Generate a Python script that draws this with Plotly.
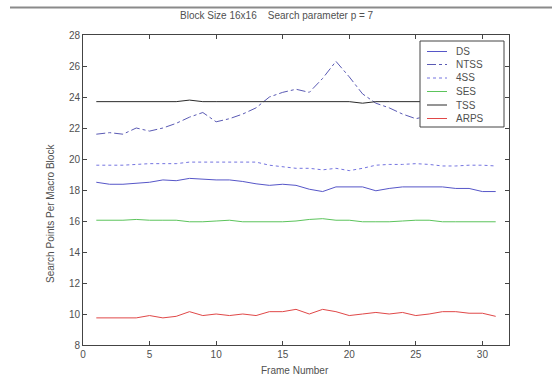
import plotly.graph_objects as go

frames = list(range(1, 32))
ds = [18.5, 18.37, 18.37, 18.45, 18.5, 18.65, 18.6, 18.75, 18.7, 18.65, 18.65, 18.55, 18.4, 18.3, 18.37, 18.3,
      18.05, 17.9, 18.2, 18.2, 18.2, 17.95, 18.1, 18.2, 18.2, 18.2, 18.2, 18.1, 18.1, 17.9, 17.9]
ntss = [21.6, 21.7, 21.6, 22.0, 21.8, 22.0, 22.3, 22.7, 23.0, 22.4, 22.6, 22.9, 23.3, 24.0, 24.3, 24.5,
        24.3, 25.2, 26.3, 25.3, 24.2, 23.6, 23.3, 22.9, 22.6, 22.8, 23.0, 23.2, 23.0, 23.1, 23.0]
fss = [19.6, 19.6, 19.6, 19.65, 19.7, 19.7, 19.7, 19.8, 19.8, 19.8, 19.8, 19.8, 19.8, 19.6, 19.5, 19.4,
       19.4, 19.3, 19.4, 19.25, 19.4, 19.6, 19.65, 19.65, 19.7, 19.65, 19.55, 19.55, 19.6, 19.6, 19.55]
ses = [16.05, 16.05, 16.05, 16.1, 16.05, 16.05, 16.05, 15.95, 15.95, 16.0, 16.05, 15.95, 15.95, 15.95, 15.95, 16.0,
       16.1, 16.15, 16.05, 16.05, 15.95, 15.95, 15.95, 16.0, 16.05, 16.05, 15.95, 15.95, 15.95, 15.95, 15.95]
tss = [23.7, 23.7, 23.7, 23.7, 23.7, 23.7, 23.7, 23.8, 23.7, 23.7, 23.7, 23.7, 23.7, 23.7, 23.7, 23.7,
       23.7, 23.7, 23.7, 23.7, 23.6, 23.7, 23.7, 23.7, 23.7, 23.7, 23.7, 23.7, 23.7, 23.7, 23.7]
arps = [9.75, 9.75, 9.75, 9.75, 9.9, 9.75, 9.85, 10.15, 9.9, 10.0, 9.9, 10.0, 9.9, 10.15, 10.15, 10.3,
        10.0, 10.3, 10.15, 9.9, 10.0, 10.1, 10.0, 10.1, 9.9, 10.0, 10.15, 10.15, 10.05, 10.05, 9.85]

names = ["DS", "NTSS", "4SS", "SES", "TSS", "ARPS"]
series = [ds, ntss, fss, ses, tss, arps]
colors = ["#5656c8", "#5a5ab4", "#7474e0", "#5cc45c", "#2a2a2a", "#e04848"]
dashes = ["solid", "dashdot", "dot", "solid", "solid", "solid"]

x_ticks = [0, 5, 10, 15, 20, 25, 30]
y_ticks = [8, 10, 12, 14, 16, 18, 20, 22, 24, 26, 28]

FONT = "Liberation Sans, Arial, sans-serif"
TXT = "#505050"

fig = go.Figure()
for n, s, c, d in zip(names, series, colors, dashes):
    fig.add_trace(go.Scatter(x=frames, y=s, mode="lines", name=n,
                             line=dict(color=c, width=1, dash=d), showlegend=False))

W, H = 552, 379
L, R, T, B = 83, 509, 35, 345
pw, ph = R - L, B - T

def px(xp):
    return (xp - L) / pw

def py(yp):
    return (B - yp) / ph

shapes = []
annotations = []
# top gray rule
shapes.append(dict(type="line", xref="paper", yref="paper", x0=px(10), x1=px(552), y0=py(7.5), y1=py(7.5),
                   line=dict(color="#8a8a8a", width=2)))
# legend box
shapes.append(dict(type="rect", xref="paper", yref="paper", x0=px(420), x1=px(504), y0=py(127), y1=py(41),
                   fillcolor="white", line=dict(color="#444444", width=1), layer="above"))
ly = [51.5, 64.5, 78, 91.5, 105, 118.5]
for n, c, d, yy in zip(names, colors, dashes, ly):
    shapes.append(dict(type="line", xref="paper", yref="paper", x0=px(427), x1=px(447), y0=py(yy), y1=py(yy),
                       line=dict(color=c, width=1, dash=d), layer="above"))
    annotations.append(dict(xref="paper", yref="paper", x=px(454), y=py(yy), text=n, showarrow=False,
                            xanchor="left", yanchor="middle", font=dict(family=FONT, size=10, color=TXT)))

annotations.append(dict(xref="paper", yref="paper", x=px(277), y=py(15),
                        text="Block Size 16x16    Search parameter p = 7", showarrow=False,
                        xanchor="center", yanchor="middle", font=dict(family=FONT, size=10, color=TXT)))
annotations.append(dict(xref="paper", yref="paper", x=px(295), y=py(370), text="Frame Number", showarrow=False,
                        xanchor="center", yanchor="middle", font=dict(family=FONT, size=10, color=TXT)))
annotations.append(dict(xref="paper", yref="paper", x=px(50), y=py(214), text="Search Points Per Macro Block",
                        showarrow=False, textangle=-90, xanchor="center", yanchor="middle",
                        font=dict(family=FONT, size=10, color=TXT)))

fig.update_layout(
    width=W, height=H,
    margin=dict(l=L, r=W - R, t=T, b=H - B, pad=0),
    paper_bgcolor="white", plot_bgcolor="white",
    font=dict(family=FONT, size=10, color=TXT),
    shapes=shapes, annotations=annotations,
    showlegend=False,
    xaxis=dict(range=[0, 32], tickvals=x_ticks, ticks="inside", ticklen=4, tickcolor="#444444",
               showline=True, linecolor="#444444", linewidth=1, mirror="ticks", showgrid=False,
               zeroline=False, tickfont=dict(size=10, color=TXT)),
    yaxis=dict(range=[8, 28], tickvals=y_ticks, ticks="inside", ticklen=4, tickcolor="#444444",
               showline=True, linecolor="#444444", linewidth=1, mirror="ticks", showgrid=False,
               zeroline=False, tickfont=dict(size=10, color=TXT)),
)

fig.write_html("out.html", config={"displayModeBar": False},
               post_script="document.body.style.margin='0';document.body.style.overflow='hidden';")
